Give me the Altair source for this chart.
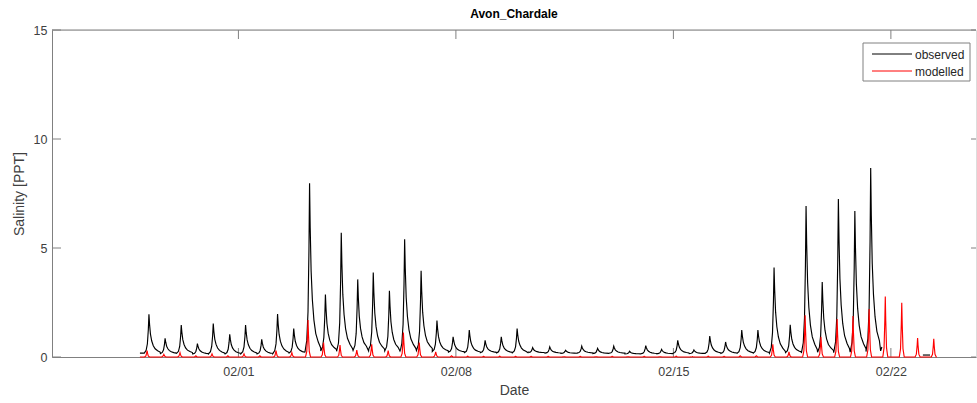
import altair as alt
import pandas as pd

START = pd.Timestamp("2019-01-26")

# observed: peak times (days after Jan 26), peak values, trough before each peak
obs_peak_day = [3.12, 3.64, 4.16, 4.68, 5.19, 5.72, 6.23, 6.75, 7.26, 7.78,
                8.29, 8.80, 9.31, 9.84, 10.34, 10.86, 11.35, 11.88, 12.39, 12.91,
                13.43, 13.94, 14.46, 14.97, 15.47, 16.02, 16.53, 17.05, 17.56, 18.08,
                18.59, 19.11, 19.62, 20.14, 20.66, 21.17, 21.68, 22.20, 22.72, 23.24,
                23.76, 24.27, 24.79, 25.31, 25.84, 26.35]
obs_peak_val = [1.96, 0.86, 1.47, 0.61, 1.53, 1.04, 1.47, 0.81, 1.97, 1.31,
                7.97, 2.87, 5.70, 3.56, 3.87, 3.04, 5.40, 3.96, 1.67, 0.93,
                1.24, 0.76, 0.93, 1.31, 0.43, 0.46, 0.31, 0.50, 0.40, 0.50,
                0.26, 0.52, 0.35, 0.76, 0.32, 0.96, 0.69, 1.24, 1.24, 4.10,
                1.48, 6.93, 3.44, 7.25, 6.70, 8.67]
obs_base = [0.18, 0.16, 0.17, 0.14, 0.15, 0.14, 0.15, 0.14, 0.17, 0.18,
            0.22, 0.28, 0.26, 0.30, 0.28, 0.28, 0.27, 0.30, 0.25, 0.22,
            0.20, 0.20, 0.19, 0.20, 0.20, 0.18, 0.17, 0.18, 0.16, 0.17,
            0.14, 0.15, 0.15, 0.17, 0.16, 0.17, 0.17, 0.17, 0.18, 0.17,
            0.20, 0.18, 0.22, 0.20, 0.22, 0.25]
obs_start_day, obs_start_val = 2.83, 0.18
obs_end_day, obs_end_val = 26.67, 0.28
obs_late_day = [28.03, 28.26]
obs_late_val = [0.09, 0.09]

# modelled
mod_peak_day = [3.06, 3.60, 4.12, 4.63, 5.15, 5.66, 6.18, 6.69, 7.21, 7.72,
                8.24, 8.74, 9.27, 9.81, 10.29, 10.82, 11.31, 11.82, 12.35, 12.86,
                13.38, 13.89, 14.41, 14.92, 15.42, 15.97, 16.48, 17.00, 17.51, 18.03,
                18.54, 19.06, 19.57, 20.09, 20.61, 21.12, 21.63, 22.15, 22.67,
                23.20, 23.72, 24.24, 24.75, 25.27, 25.78, 26.30, 26.82, 27.35, 27.86, 28.38]
mod_peak_val = [0.29, 0.12, 0.20, 0.05, 0.14, 0.05, 0.14, 0.05, 0.29, 0.20,
                1.70, 0.66, 0.55, 0.32, 0.58, 0.29, 1.12, 0.66, 0.24, 0.05,
                0.04, 0.03, 0.04, 0.03, 0.03, 0.03, 0.02, 0.03, 0.02, 0.03,
                0.02, 0.03, 0.02, 0.04, 0.02, 0.04, 0.03, 0.05, 0.05,
                0.58, 0.23, 1.91, 0.93, 1.74, 1.88, 2.20, 2.77, 2.49, 0.87, 0.84]
mod_base = 0.0
mod_start_day, mod_end_day = 2.83, 28.48

series_names = ["observed", "modelled"]
series_colors = ["black", "red"]
x_tick_dates = [1, 8, 15, 22]          # days of February
y_tick_vals = [0, 5, 10, 15]

# peak shapes (offsets in days, fraction of peak height above trough)
OBS_OFF = [-0.15, -0.09, -0.05, -0.02, 0.0, 0.02, 0.05, 0.09, 0.14, 0.20, 0.28, 0.36]
OBS_FRAC = [0.0, 0.07, 0.24, 0.6, 1.0, 0.74, 0.48, 0.31, 0.19, 0.11, 0.06, 0.025]
MOD_OFF = [-0.08, -0.04, -0.015, 0.0, 0.015, 0.04, 0.08]
MOD_FRAC = [0.0, 0.15, 0.6, 1.0, 0.6, 0.15, 0.0]


def ts(d):
    return (START + pd.to_timedelta(d, unit="D")).strftime("%Y-%m-%dT%H:%M:%S") + "Z"


rows = [("observed", 0, obs_start_day, obs_start_val)]
for d, p, b in zip(obs_peak_day, obs_peak_val, obs_base):
    for o, f in zip(OBS_OFF, OBS_FRAC):
        rows.append(("observed", 0, d + o, b + f * (p - b)))
rows.append(("observed", 0, obs_end_day, obs_end_val))
for d, v in zip(obs_late_day, obs_late_val):
    rows.append(("observed", 1, d, v))

mrows = [("modelled", 2, mod_start_day, mod_base)]
for d, p in zip(mod_peak_day, mod_peak_val):
    for o, f in zip(MOD_OFF, MOD_FRAC):
        mrows.append(("modelled", 2, d + o, mod_base + f * (p - mod_base)))
mrows.append(("modelled", 2, mod_end_day, mod_base))

obs_df = pd.DataFrame(rows, columns=["series", "seg", "day", "v"])
obs_df["t"] = obs_df["day"].map(ts)
mod_df = pd.DataFrame(mrows, columns=["series", "seg", "day", "v"])
mod_df["t"] = mod_df["day"].map(ts)

xt_df = pd.DataFrame({"t": ["2019-02-%02dT00:00:00Z" % dd for dd in x_tick_dates]})
yt_df = pd.DataFrame({"v": y_tick_vals})
leg_df = pd.DataFrame({"series": series_names})

W, H = 924, 327
FONT = "Liberation Sans"
AX = "#808080"
TXT = "#404040"

X = alt.X(
    "t:T",
    scale=alt.Scale(type="utc",
                    domain=[alt.DateTime(year=2019, month=1, date=26, utc=True),
                            alt.DateTime(year=2019, month=2, date=24, hours=17, minutes=45, utc=True)]),
    axis=alt.Axis(
        title="Date", format="%m/%d",
        values=[alt.DateTime(year=2019, month=2, date=dd, utc=True) for dd in x_tick_dates],
        ticks=False, grid=False, domainColor=AX, domainWidth=1,
        labelColor=TXT, labelFont=FONT, labelFontSize=12.5, labelPadding=8, labelFlush=False,
        titleColor=TXT, titleFont=FONT, titleFontSize=14, titleFontWeight="normal", titlePadding=6,
    ),
)
Y = alt.Y(
    "v:Q",
    scale=alt.Scale(domain=[0, 15], nice=False, zero=True),
    axis=alt.Axis(
        title="Salinity [PPT]", values=y_tick_vals,
        ticks=False, grid=False, domainColor=AX, domainWidth=1,
        labelColor=TXT, labelFont=FONT, labelFontSize=12.5, labelPadding=5,
        titleColor=TXT, titleFont=FONT, titleFontSize=14, titleFontWeight="normal", titlePadding=7,
    ),
)
CSCALE = alt.Scale(domain=series_names, range=series_colors)
COLOR = alt.Color("series:N", scale=CSCALE, legend=None)

top_ticks = alt.Chart(xt_df).mark_rule(color=AX, strokeWidth=1).encode(
    x=X, y=alt.value(0), y2=alt.value(9))
bot_ticks = alt.Chart(xt_df).mark_rule(color=AX, strokeWidth=1).encode(
    x=X, y=alt.value(H - 9), y2=alt.value(H))
left_ticks = alt.Chart(yt_df).mark_rule(color=AX, strokeWidth=1).encode(
    y=Y, x=alt.value(0), x2=alt.value(9))
right_ticks = alt.Chart(yt_df).mark_rule(color=AX, strokeWidth=1).encode(
    y=Y, x=alt.value(W - 5), x2=alt.value(W))
top_border = alt.Chart(pd.DataFrame({"k": [0]})).mark_rule(color=AX, strokeWidth=1).encode(
    x=alt.value(0), x2=alt.value(W), y=alt.value(0))

obs_line = alt.Chart(obs_df).mark_line(strokeWidth=1.15).encode(
    x=X, y=Y, color=COLOR, detail="seg:N", order="day:Q")
mod_line = alt.Chart(mod_df).mark_line(strokeWidth=1.15).encode(
    x=X, y=Y, color=COLOR, detail="seg:N", order="day:Q")

# legend box (top-right, inside the axes)
LX, LY = 811, 13
leg_box = alt.Chart(pd.DataFrame({"k": [0]})).mark_rect(
    fill="white", stroke=AX, strokeWidth=1).encode(
    x=alt.value(LX), x2=alt.value(LX + 107), y=alt.value(LY), y2=alt.value(LY + 38))
leg_layers = [leg_box]
for i, name in enumerate(series_names):
    yy = LY + 11 + 17 * i
    sub = alt.Chart(leg_df).transform_filter(alt.datum.series == name)
    leg_layers.append(sub.mark_rule(strokeWidth=1).encode(
        x=alt.value(LX + 9), x2=alt.value(LX + 49), y=alt.value(yy),
        color=alt.Color("series:N", scale=CSCALE, legend=None)))
    leg_layers.append(sub.mark_text(align="left", baseline="middle", font=FONT,
                                    fontSize=12, color="#262626").encode(
        x=alt.value(LX + 52), y=alt.value(yy + 0.5), text="series:N"))

chart = alt.layer(
    top_ticks, bot_ticks, left_ticks, right_ticks, top_border, obs_line, mod_line, *leg_layers
).properties(
    width=W, height=H,
    title=alt.TitleParams("Avon_Chardale", font=FONT, fontSize=12, fontWeight="bold",
                          color="black", offset=3, anchor="middle"),
    padding={"left": 52, "top": 30, "right": 1, "bottom": 46},
    autosize=alt.AutoSizeParams(type="none"),
).configure_view(stroke="transparent").configure(background="white")

chart.save("out.html", embed_options={"renderer": "svg", "actions": False})
